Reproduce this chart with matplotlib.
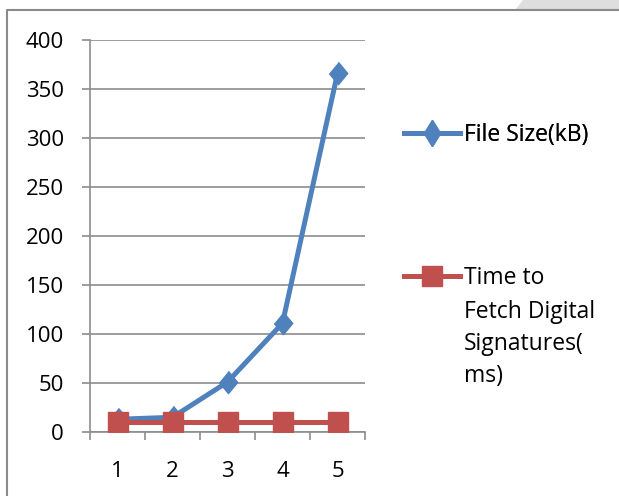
import matplotlib.pyplot as plt
from matplotlib.lines import Line2D
from matplotlib.patches import Polygon

categories = ["1", "2", "3", "4", "5"]
file_size = [13, 15, 51, 111, 366]
fetch_time = [10, 10, 10, 10, 10]

blue = "#4F81BD"
red = "#C0504D"
grid_col = "#8C8C8C"

plt.rcParams["font.family"] = ["Open Sans", "DejaVu Sans"]

fig = plt.figure(figsize=(6.19, 4.96), dpi=100)
ax = fig.add_axes([90 / 619, 1 - 432 / 496, 275 / 619, 392 / 496])

diamond = [(0, 1), (0.83, 0), (0, -1), (-0.83, 0)]
x = range(len(categories))
l1, = ax.plot(x, file_size, color=blue, lw=3.6, marker=diamond, ms=16,
              mec=blue, mfc=blue, zorder=3)
l2, = ax.plot(x, fetch_time, color=red, lw=3.6, marker="s", ms=14.4,
              mec=red, mfc=red, zorder=4)

ax.set_xlim(-0.5, len(categories) - 0.5)
ax.set_ylim(0, 400)
ax.set_yticks(range(0, 401, 50))
ax.set_xticks(list(x))
ax.set_xticklabels(categories)
ax.set_xticks([i - 0.5 for i in range(len(categories) + 1)], minor=True)
ax.tick_params(axis="x", which="major", length=0, pad=21, labelsize=16)
ax.tick_params(axis="x", which="minor", length=5.8, color=grid_col, width=1.2)
ax.tick_params(axis="y", length=5.8, color=grid_col, width=1.2, pad=13, labelsize=16)
ax.yaxis.grid(True, color=grid_col, lw=1.2)
ax.set_axisbelow(True)
for s in ["top", "right"]:
    ax.spines[s].set_visible(False)
for s in ["left", "bottom"]:
    ax.spines[s].set_color(grid_col)
    ax.spines[s].set_linewidth(1.2)

fs = 16.5
fs_px = fs * 100 / 72
h1 = Line2D([], [], color=blue, lw=3.6, marker="d", ms=13)
h2 = Line2D([], [], color=red, lw=3.6, marker="s", ms=14.4)
kw = dict(loc="center left", frameon=False, borderpad=0, borderaxespad=0,
          handlelength=56 / fs_px, handletextpad=4 / fs_px, fontsize=fs)
leg1 = fig.legend([h1], ["File Size(kB)"], bbox_to_anchor=(404 / 619, 1 - 135 / 496), **kw)
leg2 = fig.legend([h2], ["Time to"], bbox_to_anchor=(404 / 619, 1 - 278 / 496), **kw)
fig.add_artist(leg1)
for i, line in enumerate(["Fetch Digital", "Signatures(", "ms)"]):
    fig.text(464 / 619, 1 - (287 + 31.5 * (i + 1)) / 496, line,
             fontsize=fs, va="baseline", ha="left")

# outer frame and top corner shading
fig.add_artist(Line2D([7 / 619, 7 / 619, 1], [0, 1 - 10 / 496, 1 - 10 / 496],
                      transform=fig.transFigure, color="#8A8A8A", lw=1.5))
fig.add_artist(Polygon([[523 / 619, 1], [516 / 619, 1 - 9 / 496],
                        [1, 1 - 9 / 496], [1, 1]], closed=True,
                       transform=fig.transFigure, color="#DEDEDE", lw=0))

fig.savefig("out.png", dpi=100)
